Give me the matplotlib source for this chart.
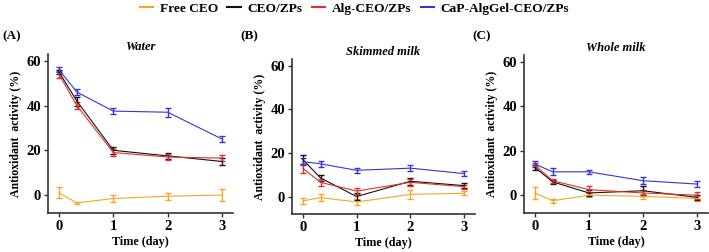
import matplotlib.pyplot as plt

plt.rcParams['font.family'] = ['Liberation Serif', 'DejaVu Serif']
plt.rcParams['font.weight'] = 'bold'

days = [0, 0.33, 1, 2, 3]
series = ['Free CEO', 'CEO/ZPs', 'Alg-CEO/ZPs', 'CaP-AlgGel-CEO/ZPs']
cores = ['#F5A623', '#111111', '#E0302E', '#3535D5']
panels = ['(A)', '(B)', '(C)']
titulos = ['Water', 'Skimmed milk', 'Whole milk']

# water
water_mean = [
    [1, -3.5, -1.5, -0.5, 0],
    [55, 42, 20, 17.5, 15],
    [54, 40, 19, 17, 16.5],
    [56, 46, 37.5, 37, 25],
]
water_err = [
    [2.5, 0.5, 1.5, 1.5, 2.5],
    [1, 2, 1.5, 1.5, 1.5],
    [1.5, 1.5, 1.5, 1.5, 1.5],
    [1, 1.5, 1.5, 2, 1.5],
]

# skimmed milk
skim_mean = [
    [-2, -0.5, -2.5, 1, 1.5],
    [17, 8.5, 0, 7, 5],
    [13, 6.5, 2.5, 6.5, 4.5],
    [16, 15, 12, 13, 10.5],
]
skim_err = [
    [1.5, 1.5, 1.5, 2, 1],
    [2, 1.5, 1.5, 1.5, 1],
    [2, 1.5, 1.5, 1.5, 1],
    [1.5, 1.5, 1, 1.5, 1],
]

# whole milk
whole_mean = [
    [1, -2.5, 0, -0.5, -1.5],
    [12.5, 6, 1, 2, -1],
    [13.5, 6.5, 2.5, 1, 0],
    [14, 10.5, 10.5, 6.5, 5],
]
whole_err = [
    [2.5, 0.8, 1, 1, 1],
    [1, 1, 1.5, 2, 1],
    [1, 1, 1.5, 1.5, 1.5],
    [1.5, 1.5, 1, 1.5, 1.5],
]

medias = [water_mean, skim_mean, whole_mean]
erros = [water_err, skim_err, whole_err]

W, H = 709, 252
fig = plt.figure(figsize=(W / 100, H / 100), dpi=100)

# axes boxes in pixels: left, top, right, bottom
caixas = [(48, 54, 233, 213), (292, 59, 475, 214), (524, 55, 708, 213)]
label_x = [2, 240, 472]

handles = []
for i in range(3):
    l, t, r, b = caixas[i]
    ax = fig.add_axes([l / W, 1 - b / H, (r - l) / W, (b - t) / H])
    for j in range(4):
        ax.errorbar(days, medias[i][j], yerr=erros[i][j], color=cores[j],
                    lw=0.8, elinewidth=1.0, capsize=2.5, capthick=1.0)
        if i == 0:
            h, = ax.plot([], [], color=cores[j], lw=1.5)
            handles.append(h)
    ax.set_xlim(-0.2, 3.2)
    ax.set_ylim(-8, 63)
    ax.set_xticks([0, 1, 2, 3])
    ax.set_yticks([0, 20, 40, 60])
    ax.spines['top'].set_visible(False)
    ax.spines['right'].set_visible(False)
    for s in ['left', 'bottom']:
        ax.spines[s].set_color('#333333')
        ax.spines[s].set_linewidth(1.2)
    ax.tick_params(labelsize=10.5, length=3, width=1, color='#333333', pad=2)
    ax.set_xlabel('Time (day)', fontsize=8.7, fontweight='bold', labelpad=2)
    ax.set_ylabel('Antioxidant  activity (%)', fontsize=8.5, fontweight='bold', labelpad=3)
    ax.set_title(titulos[i], fontsize=9, fontweight='bold', style='italic', pad=3)
    fig.text(label_x[i] / W, 1 - 36 / H, panels[i], fontsize=9.5, fontweight='bold',
             va='center', ha='left')

fig.legend(handles, series, loc='center', bbox_to_anchor=(0.5, 1 - 9 / H), ncol=4,
           frameon=False, handlelength=1.0, handletextpad=0.5,
           columnspacing=0.7, prop={'weight': 'bold', 'size': 9.6})

fig.savefig('out.png', dpi=100)
